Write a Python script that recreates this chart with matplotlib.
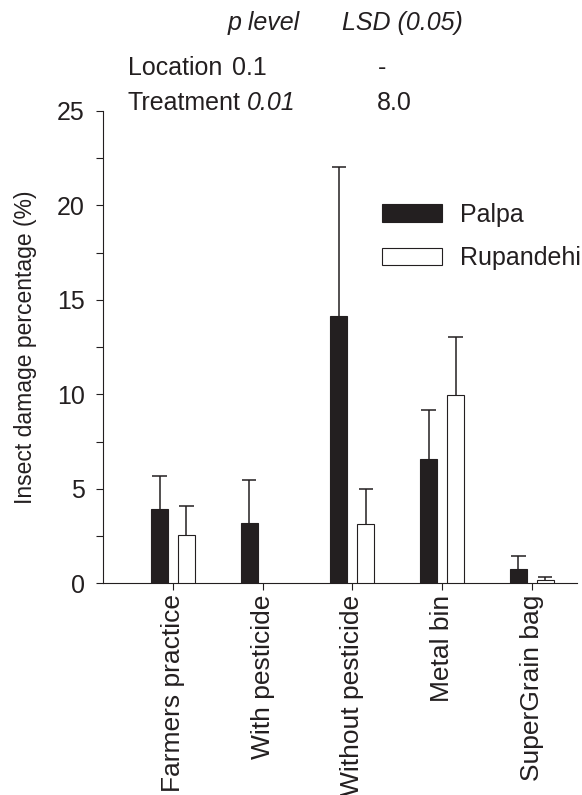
import numpy as np
import matplotlib
matplotlib.use('Agg')
import matplotlib.pyplot as plt
from matplotlib.ticker import MultipleLocator, NullFormatter

plt.rcParams['font.family'] = ['Liberation Sans', 'DejaVu Sans']

treatments = ['Farmers practice', 'With pesticide', 'Without pesticide',
              'Metal bin', 'SuperGrain bag']
palpa = [3.92, 3.21, 14.15, 6.58, 0.74]
palpa_err = [1.76, 2.26, 7.89, 2.61, 0.70]
rupandehi = [2.55, np.nan, 3.14, 9.96, 0.17]
rupandehi_err = [1.52, np.nan, 1.86, 3.09, 0.15]

dark = '#231f20'
fs = 18

fig = plt.figure(figsize=(5.82, 7.95), dpi=100)
ax = fig.add_axes([0.1765, 0.2663, 0.9914 - 0.1765, 0.8604 - 0.2663])

x = np.arange(len(treatments))
w = 0.19
off = 0.15
cap = 0.08

ax.bar(x - off, palpa, w, color=dark, edgecolor=dark, linewidth=0.8,
       label='Palpa', zorder=3)
ax.bar(x + off, rupandehi, w, color='white', edgecolor=dark, linewidth=0.8,
       label='Rupandehi', zorder=3)

# upper-only error bars with a cap
for xs, vals, errs in [(x - off, palpa, palpa_err), (x + off, rupandehi, rupandehi_err)]:
    vals = np.array(vals)
    tops = vals + np.array(errs)
    ax.vlines(xs, vals, tops, color=dark, linewidth=1.1, zorder=2)
    ax.hlines(tops, xs - cap, xs + cap, color=dark, linewidth=1.1, zorder=2)

ax.set_xlim(-0.784, 4.504)
ax.set_ylim(0, 25)
ax.set_xticks(x)
ax.set_xticklabels(treatments, rotation=90, fontsize=19)
ax.yaxis.set_major_locator(MultipleLocator(5))
ax.yaxis.set_minor_locator(MultipleLocator(2.5))
ax.yaxis.set_minor_formatter(NullFormatter())
ax.tick_params(axis='both', which='both', direction='out', length=5,
               width=0.8, colors=dark, labelcolor=dark)
ax.tick_params(axis='y', labelsize=fs, pad=8)
ax.tick_params(axis='x', pad=3)

for s in ['top', 'right']:
    ax.spines[s].set_visible(False)
for s in ['left', 'bottom']:
    ax.spines[s].set_linewidth(0.8)
    ax.spines[s].set_color(dark)

ax.set_ylabel('Insect damage percentage (%)', fontsize=16.5, color=dark)
ax.yaxis.set_label_coords(-0.1385, 0.5)

leg = ax.legend(loc='upper left', bbox_to_anchor=(382 / 582, 1 - 203 / 795),
                bbox_transform=fig.transFigure, frameon=False, fontsize=fs,
                handlelength=2.4, handleheight=0.72, handletextpad=0.7,
                labelspacing=0.77, borderpad=0, borderaxespad=0)
for t in leg.get_texts():
    t.set_color(dark)

def ftext(px, py, s, italic=False):
    fig.text(px / 582, 1 - py / 795, s, fontsize=fs, color=dark,
             style='italic' if italic else 'normal', ha='left', va='baseline')

ftext(228, 30, 'p level', italic=True)
ftext(342, 30, 'LSD (0.05)', italic=True)
ftext(128, 75, 'Location')
ftext(232, 75, '0.1')
ftext(378, 75, '-')
ftext(128, 110, 'Treatment')
ftext(247, 110, '0.01', italic=True)
ftext(377, 110, '8.0')

fig.savefig('out.png', dpi=100)
